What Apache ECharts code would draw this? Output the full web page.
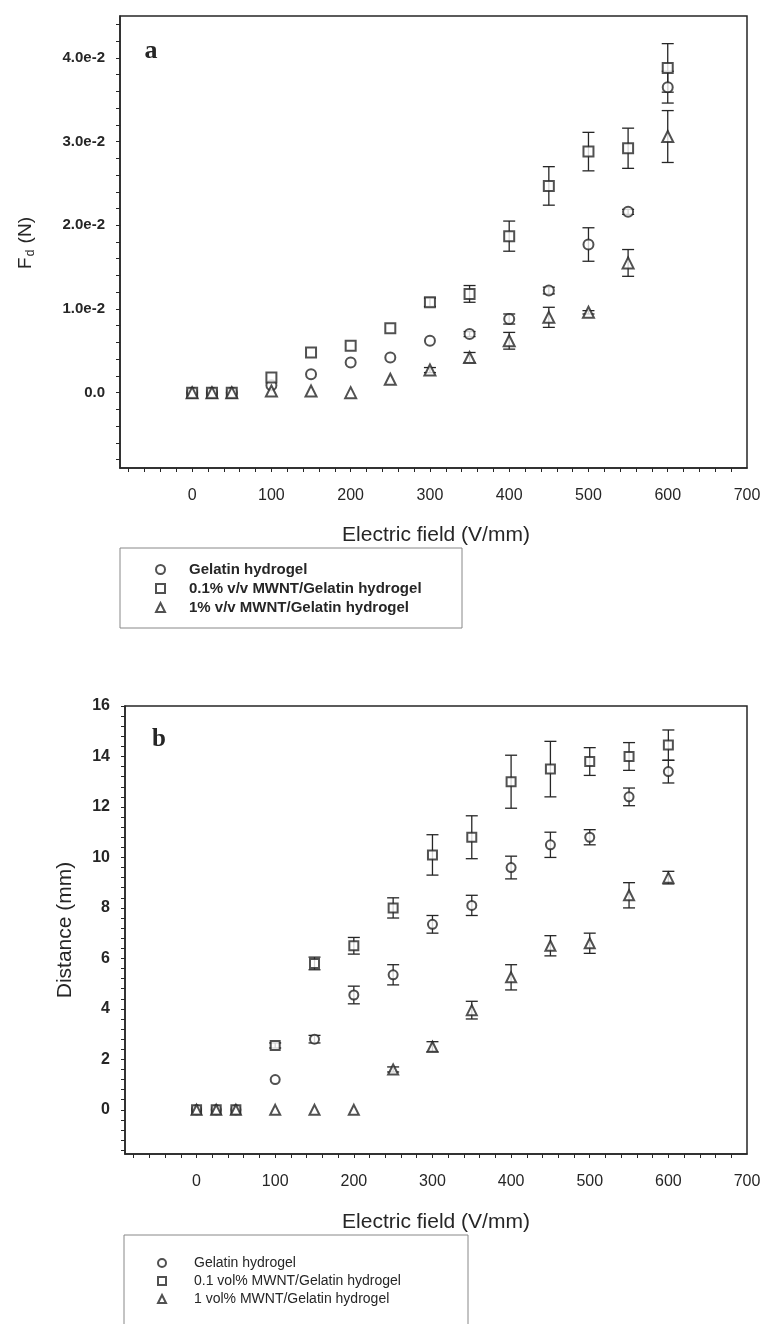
<!DOCTYPE html>
<html>
<head>
<meta charset="utf-8">
<script src="https://cdn.jsdelivr.net/npm/echarts@6/dist/echarts.min.js"></script>
<style>
	html, body { margin: 0; padding: 0; background: #fff; }
	#chart { width: 764px; height: 1324px; }
</style>
</head>
<body>
<div id="chart"></div>
<script>
// electric field, V/mm (same for both panels)
var field = [0, 25, 50, 100, 150, 200, 250, 300, 350, 400, 450, 500, 550, 600];

// panel a : Fd (N)
var forceGel = [0, 0, 0, 0.0009, 0.0022, 0.0036, 0.0042, 0.0062, 0.0070, 0.0088, 0.0122, 0.0177, 0.0216, 0.0365];
var forceGelErr = [0, 0, 0, 0, 0, 0, 0, 0, 0.0003, 0.0006, 0.0004, 0.0020, 0.0003, 0.0019];
var force01 = [0, 0, 0, 0.0018, 0.0048, 0.0056, 0.0077, 0.0108, 0.0118, 0.0187, 0.0247, 0.0288, 0.0292, 0.0388];
var force01Err = [0, 0, 0, 0, 0, 0, 0, 0.0005, 0.0010, 0.0018, 0.0023, 0.0023, 0.0024, 0.0029];
var force1 = [0, 0, 0, 0.0002, 0.0002, 0, 0.0016, 0.0027, 0.0042, 0.0062, 0.0090, 0.0096, 0.0155, 0.0306];
var force1Err = [0, 0, 0, 0, 0, 0, 0, 0.0003, 0.0006, 0.0010, 0.0012, 0.0002, 0.0016, 0.0031];

// panel b : distance (mm)
var distGel = [0, 0, 0, 1.2, 2.8, 4.55, 5.35, 7.35, 8.1, 9.6, 10.5, 10.8, 12.4, 13.4];
var distGelErr = [0, 0, 0, 0, 0.15, 0.35, 0.4, 0.35, 0.4, 0.45, 0.5, 0.3, 0.35, 0.45];
var dist01 = [0, 0, 0, 2.55, 5.8, 6.5, 8.0, 10.1, 10.8, 13.0, 13.5, 13.8, 14.0, 14.45];
var dist01Err = [0, 0, 0, 0.1, 0.25, 0.33, 0.4, 0.8, 0.85, 1.05, 1.1, 0.55, 0.55, 0.6];
var dist1 = [0, 0, 0, 0, 0, 0, 1.6, 2.5, 3.95, 5.25, 6.5, 6.6, 8.5, 9.2];
var dist1Err = [0, 0, 0, 0, 0, 0, 0.1, 0.2, 0.35, 0.5, 0.4, 0.4, 0.5, 0.25];

var namesA = ['Gelatin hydrogel', '0.1% v/v MWNT/Gelatin hydrogel', '1% v/v MWNT/Gelatin hydrogel'];
var namesB = ['Gelatin hydrogel', '0.1 vol% MWNT/Gelatin hydrogel', '1 vol% MWNT/Gelatin hydrogel'];

// tick labels
var xLabels = [0, 100, 200, 300, 400, 500, 600, 700];
var yLabelsA = [0, 0.01, 0.02, 0.03, 0.04];
var yLabelsB = [0, 2, 4, 6, 8, 10, 12, 14, 16];

var FONT = '"Liberation Sans", Arial, sans-serif';
var INK = '#262626';

var fig = {
	init: function(){
		var myChart = echarts.init(document.getElementById('chart'));
		myChart.setOption(fig.getOption());
	},
	steps: function(from, to, step){
		var out = [];
		for (var v = from; v <= to + step / 1000; v += step) {
			out.push(Math.round(v * 100000) / 100000);
		}
		return out;
	},
	pairs: function(ys){
		return field.map(function(x, i){ return [x, ys[i]]; });
	},
	marks: function(name, ys, symbol, size, idx){
		return {
			type: 'scatter',
			name: name,
			xAxisIndex: idx,
			yAxisIndex: idx,
			symbol: symbol,
			symbolSize: size,
			data: fig.pairs(ys),
			itemStyle: {color: INK, borderWidth: 1.1},
			z: 5,
			silent: true
		};
	},
	errorBars: function(ys, errs, idx, cap){
		return {
			type: 'custom',
			xAxisIndex: idx,
			yAxisIndex: idx,
			data: field.map(function(x, i){ return [x, ys[i], errs[i]]; }),
			z: 2,
			silent: true,
			renderItem: function(params, api){
				var x = api.value(0), y = api.value(1), e = api.value(2);
				if (!e) {
					return;
				}
				var hi = api.coord([x, y + e]);
				var lo = api.coord([x, y - e]);
				var st = {stroke: INK, lineWidth: 1.3};
				return {
					type: 'group',
					children: [
						{type: 'line', shape: {x1: hi[0], y1: hi[1], x2: lo[0], y2: lo[1]}, style: st},
						{type: 'line', shape: {x1: hi[0] - cap, y1: hi[1], x2: hi[0] + cap, y2: hi[1]}, style: st},
						{type: 'line', shape: {x1: lo[0] - cap, y1: lo[1], x2: lo[0] + cap, y2: lo[1]}, style: st}
					]
				};
			}
		};
	},
	xAxis: function(idx, tickVals){
		return {
			type: 'value',
			gridIndex: idx,
			min: -91,
			max: 700,
			splitLine: {show: false},
			axisLine: {onZero: false, lineStyle: {color: INK, width: 1.5}},
			axisTick: {customValues: tickVals, length: 4, inside: false, lineStyle: {color: INK}},
			axisLabel: {customValues: xLabels, margin: 20, fontSize: 16, color: INK, fontFamily: FONT}
		};
	},
	getOption: function(){
		var xTicks = fig.steps(-80, 680, 20);

		var option = {
			animation: false,
			backgroundColor: '#fff',
			grid: [
				{left: 120, top: 16, width: 627, height: 452, show: true, borderColor: INK, borderWidth: 1.5},
				{left: 125, top: 706, width: 622, height: 448, show: true, borderColor: INK, borderWidth: 1.5}
			],
			xAxis: [fig.xAxis(0, xTicks), fig.xAxis(1, xTicks)],
			yAxis: [
				{
					type: 'value',
					gridIndex: 0,
					min: -0.009,
					max: 0.045,
					splitLine: {show: false},
					axisLine: {onZero: false, lineStyle: {color: INK, width: 1.5}},
					axisTick: {customValues: fig.steps(-0.008, 0.044, 0.002), length: 4, lineStyle: {color: INK}},
					axisLabel: {
						customValues: yLabelsA,
						margin: 15,
						fontSize: 15,
						fontWeight: 'bold',
						color: INK,
						fontFamily: FONT,
						formatter: function(v){
							return v === 0 ? '0.0' : (v * 100).toFixed(1) + 'e-2';
						}
					}
				},
				{
					type: 'value',
					gridIndex: 1,
					min: -1.75,
					max: 16,
					splitLine: {show: false},
					axisLine: {onZero: false, lineStyle: {color: INK, width: 1.5}},
					axisTick: {customValues: fig.steps(-1.6, 16, 0.4), length: 4, lineStyle: {color: INK}},
					axisLabel: {customValues: yLabelsB, margin: 15, fontSize: 16, fontWeight: 'bold', color: INK, fontFamily: FONT}
				}
			],
			legend: [
				{
					data: namesA,
					orient: 'vertical',
					left: 150,
					top: 557,
					itemWidth: 9,
					itemHeight: 9,
					itemGap: 4,
					selectedMode: false,
					itemStyle: {borderWidth: 0.9},
					textStyle: {fontSize: 15, fontWeight: 'bold', color: INK, fontFamily: FONT, padding: [0, 0, 0, 19]}
				},
				{
					data: namesB,
					orient: 'vertical',
					left: 152,
					top: 1251,
					itemWidth: 8,
					itemHeight: 8,
					itemGap: 4,
					selectedMode: false,
					itemStyle: {borderWidth: 0.9},
					textStyle: {fontSize: 14, color: INK, fontFamily: FONT, padding: [0, 0, 0, 23]}
				}
			],
			graphic: [
				{type: 'rect', shape: {x: 120, y: 548, width: 342, height: 80}, style: {fill: 'none', stroke: '#888', lineWidth: 1}},
				{type: 'rect', shape: {x: 124, y: 1235, width: 344, height: 110}, style: {fill: 'none', stroke: '#888', lineWidth: 1}},
				{type: 'text', x: 151, y: 51, style: {text: 'a', fontSize: 26, fontWeight: 'bold', fontFamily: '"Liberation Serif", serif', fill: INK, align: 'center', verticalAlign: 'middle'}},
				{type: 'text', x: 159, y: 740, style: {text: 'b', fontSize: 25, fontWeight: 'bold', fontFamily: '"Liberation Serif", serif', fill: INK, align: 'center', verticalAlign: 'middle'}},
				{type: 'text', x: 436, y: 535, style: {text: 'Electric field (V/mm)', fontSize: 21, fontFamily: FONT, fill: INK, align: 'center', verticalAlign: 'middle'}},
				{type: 'text', x: 436, y: 1222, style: {text: 'Electric field (V/mm)', fontSize: 21, fontFamily: FONT, fill: INK, align: 'center', verticalAlign: 'middle'}},
				{
					type: 'text', x: 26, y: 243, rotation: Math.PI / 2,
					style: {
						text: 'F{s|d} (N)', fontSize: 19, fontFamily: FONT, fill: INK, align: 'center', verticalAlign: 'middle',
						rich: {s: {fontSize: 12, fontFamily: FONT, fill: INK, padding: [9, 1, 0, 1]}}
					}
				},
				{type: 'text', x: 65, y: 930, rotation: Math.PI / 2, style: {text: 'Distance (mm)', fontSize: 21, fontFamily: FONT, fill: INK, align: 'center', verticalAlign: 'middle'}}
			],
			series: [
				fig.errorBars(forceGel, forceGelErr, 0, 6),
				fig.errorBars(force01, force01Err, 0, 6),
				fig.errorBars(force1, force1Err, 0, 6),
				fig.marks(namesA[0], forceGel, 'emptyCircle', 10, 0),
				fig.marks(namesA[1], force01, 'emptyRect', 10, 0),
				fig.marks(namesA[2], force1, 'emptyTriangle', 11, 0),

				fig.errorBars(distGel, distGelErr, 1, 6),
				fig.errorBars(dist01, dist01Err, 1, 6),
				fig.errorBars(dist1, dist1Err, 1, 6),
				fig.marks(namesB[0], distGel, 'emptyCircle', 9, 1),
				fig.marks(namesB[1], dist01, 'emptyRect', 9, 1),
				fig.marks(namesB[2], dist1, 'emptyTriangle', 10, 1)
			]
		};

		return option;
	}
};

fig.init();
</script>
</body>
</html>
